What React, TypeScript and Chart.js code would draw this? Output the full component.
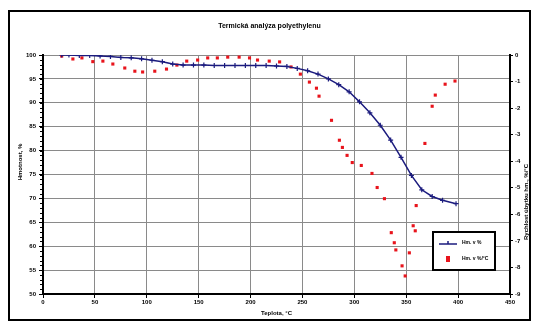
import React, { useEffect, useRef } from "react";
import { Chart, registerables } from "chart.js";
Chart.register(...registerables);

const chartTitle = "Termická analýza polyethylenu";
const xTitle = "Teplota, °C";
const yLeftTitle = "Hmotnost, %";
const yRightTitle = "Rychlost úbytku hm., %/°C";
const seriesNames = ["Hm. v %", "Hm. v %/°C"];

const tgTemps = [18, 25, 35, 45, 55, 65, 75, 85, 95, 105, 115, 125, 135, 145, 155, 165, 175, 185, 195, 205, 215, 225, 235, 245, 255, 265, 275, 285, 295, 305, 315, 325, 335, 345, 355, 365, 375, 385, 398];
const tgValues = [100.0, 100.0, 99.9, 99.9, 99.8, 99.7, 99.5, 99.4, 99.2, 98.9, 98.6, 98.1, 97.9, 97.9, 97.9, 97.8, 97.8, 97.8, 97.8, 97.8, 97.8, 97.7, 97.6, 97.2, 96.7, 96.0, 95.0, 93.8, 92.3, 90.2, 87.9, 85.3, 82.2, 78.6, 74.8, 71.8, 70.4, 69.6, 68.9];

const dtgTemps = [18, 28.8, 37.5, 48, 57.7, 67.3, 78.8, 88.5, 96, 107.7, 119, 129, 138.5, 149, 158.7, 168, 178, 189, 199, 206.7, 218, 228, 239, 248, 256.7, 263.5, 266, 278, 285.6, 288.5, 293, 298, 306.7, 317, 322, 329, 335.6, 338.5, 340, 346, 349, 353, 356.7, 358.7, 359.6, 368, 375, 378, 387.5, 397];
const dtgValues = [-0.04, -0.15, -0.11, -0.25, -0.23, -0.34, -0.49, -0.61, -0.64, -0.61, -0.53, -0.38, -0.23, -0.19, -0.11, -0.11, -0.08, -0.08, -0.11, -0.19, -0.23, -0.26, -0.45, -0.72, -1.02, -1.25, -1.55, -2.46, -3.21, -3.48, -3.78, -4.05, -4.16, -4.46, -4.99, -5.41, -6.69, -7.07, -7.34, -7.94, -8.32, -7.45, -6.43, -6.62, -5.67, -3.33, -1.93, -1.51, -1.10, -0.98];

const xTicks = [0, 50, 100, 150, 200, 250, 300, 350, 400, 450];

const BLUE = "#1b1b7e";
const RED = "#e8141c";
const FONT = "'Liberation Sans', Arial, sans-serif";

export default function App() {
  const ref = useRef<HTMLCanvasElement>(null);
  useEffect(() => {
    const canvas = ref.current!;
    const overlay = {
      id: "overlay",
      afterDraw(chart: any) {
        const ctx = chart.ctx;
        const ca = chart.chartArea;
        const yl = chart.scales.y;
        ctx.save();
        // minor ticks on left axis
        ctx.strokeStyle = "#000";
        ctx.lineWidth = 1;
        for (let v = 50; v <= 100; v += 1) {
          const py = Math.round(yl.getPixelForValue(v)) + 0.5;
          ctx.beginPath();
          ctx.moveTo(ca.left - 3, py);
          ctx.lineTo(ca.left, py);
          ctx.stroke();
        }
        ctx.fillStyle = "#000";
        ctx.textAlign = "center";
        ctx.textBaseline = "middle";
        ctx.font = `bold 7px ${FONT}`;
        ctx.fillText(chartTitle, chart.width / 2, 14);
        ctx.font = `bold 6px ${FONT}`;
        ctx.fillText(xTitle, (ca.left + ca.right) / 2, 301);
        ctx.save();
        ctx.translate(10, 150);
        ctx.rotate(-Math.PI / 2);
        ctx.fillText(yLeftTitle, 0, 0);
        ctx.restore();
        ctx.save();
        ctx.translate(516, 190);
        ctx.rotate(-Math.PI / 2);
        ctx.fillText(yRightTitle, 0, 0);
        ctx.restore();
        // legend
        const lx = 423, ly = 220, lw = 62, lh = 38;
        ctx.fillStyle = "#fff";
        ctx.fillRect(lx, ly, lw, lh);
        ctx.strokeStyle = "#000";
        ctx.lineWidth = 2;
        ctx.strokeRect(lx, ly, lw, lh);
        ctx.strokeStyle = BLUE;
        ctx.lineWidth = 1.5;
        ctx.beginPath();
        ctx.moveTo(lx + 6, ly + 12);
        ctx.lineTo(lx + 24, ly + 12);
        ctx.stroke();
        ctx.beginPath();
        ctx.moveTo(lx + 15, ly + 9);
        ctx.lineTo(lx + 15, ly + 12);
        ctx.stroke();
        ctx.fillStyle = RED;
        ctx.fillRect(lx + 13, ly + 24, 4, 6);
        ctx.fillStyle = "#000";
        ctx.textAlign = "left";
        ctx.font = `bold 5px ${FONT}`;
        ctx.fillText(seriesNames[0], lx + 29, ly + 11);
        ctx.fillText(seriesNames[1], lx + 29, ly + 27);
        ctx.restore();
      },
    };
    const tickFont = { size: 6, family: FONT, weight: "bold" as const };
    const chart = new Chart(canvas, {
      type: "scatter",
      data: {
        datasets: [
          {
            label: seriesNames[0],
            data: tgTemps.map((t, i) => ({ x: t, y: tgValues[i] })),
            showLine: true,
            borderColor: BLUE,
            backgroundColor: BLUE,
            borderWidth: 1.5,
            pointStyle: "cross",
            pointRadius: 2.5,
            pointBorderWidth: 1.2,
            yAxisID: "y",
          },
          {
            label: seriesNames[1],
            data: dtgTemps.map((t, i) => ({ x: t, y: dtgValues[i] })),
            showLine: false,
            borderColor: RED,
            backgroundColor: RED,
            pointStyle: "rect",
            pointRadius: 2.2,
            pointBorderWidth: 0,
            yAxisID: "y1",
          },
        ],
      },
      options: {
        animation: false,
        responsive: false,
        layout: { padding: { top: 43, left: 0, right: 0, bottom: 0 } },
        plugins: { legend: { display: false }, title: { display: false }, tooltip: { enabled: false } },
        scales: {
          x: {
            type: "linear",
            min: 0,
            max: 450,
            afterBuildTicks: (s: any) => { s.ticks = xTicks.map((v) => ({ value: v })); },
            afterFit: (s: any) => { s.height = 25; },
            ticks: { font: tickFont, color: "#000", padding: 1, maxRotation: 0 },
            grid: { color: "#8a8a8a", lineWidth: 1, tickLength: 4, tickColor: "#000" },
            border: { color: "#000", width: 2 },
          },
          y: {
            position: "left",
            min: 50,
            max: 100,
            ticks: { stepSize: 5, font: tickFont, color: "#000", padding: 3 },
            afterFit: (s: any) => { s.width = 33; },
            grid: { color: "#8a8a8a", lineWidth: 1, tickLength: 4, tickColor: "#000" },
            border: { color: "#000", width: 2 },
          },
          y1: {
            position: "right",
            min: -9,
            max: 0,
            ticks: { stepSize: 1, font: tickFont, color: "#000", padding: 2 },
            afterFit: (s: any) => { s.width = 19; },
            grid: { drawOnChartArea: false, tickLength: 3, tickColor: "#000" },
            border: { color: "#000", width: 2 },
          },
        },
      },
      plugins: [overlay],
    });
    return () => chart.destroy();
  }, []);
  return (
    <div style={{ marginTop: 2, width: 519, height: 307, border: "2px solid #000", background: "#fff" }}>
      <canvas ref={ref} width={519} height={307} style={{ display: "block" }} />
    </div>
  );
}
